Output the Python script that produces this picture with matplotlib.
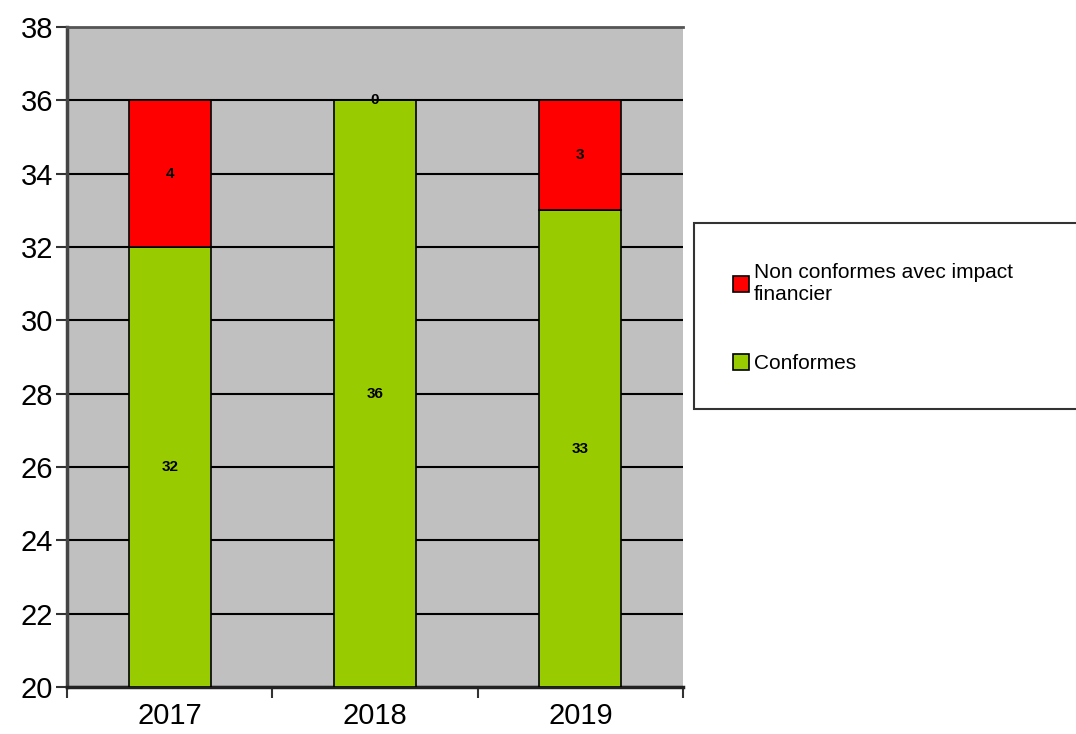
import matplotlib.pyplot as plt
from matplotlib.patches import Rectangle

annees = ['2017', '2018', '2019']
conformes = [32, 36, 33]
non_conformes = [4, 0, 3]

vert = '#99cc00'
rouge = '#ff0000'
fond = '#c0c0c0'

plt.rcParams['font.family'] = ['Liberation Sans', 'DejaVu Sans']

fig = plt.figure(figsize=(10.76, 7.34), dpi=100)
ax = fig.add_axes([0.0623, 0.064, 0.5725, 0.899])
ax.set_facecolor(fond)

x = range(len(annees))
base = 20
h_vert = [c - base for c in conformes]
b1 = ax.bar(x, h_vert, bottom=base, width=0.4, color=vert, edgecolor='black', linewidth=1.2, zorder=3)
b2 = ax.bar(x, non_conformes, bottom=conformes, width=0.4, color=rouge, edgecolor='black', linewidth=1.2, zorder=3)

# etiquettes au milieu de chaque segment visible
for i in x:
    ax.text(i, (base + conformes[i]) / 2, str(conformes[i]), ha='center', va='center',
            fontsize=11, fontweight='bold', zorder=4)
    ax.text(i, conformes[i] + non_conformes[i] / 2, str(non_conformes[i]), ha='center', va='center',
            fontsize=11, fontweight='bold', zorder=4)

ax.set_ylim(20, 38)
ax.set_xlim(-0.5, 2.5)
ax.set_yticks(range(20, 39, 2))
ax.yaxis.grid(True, color='black', linewidth=1.5, zorder=1)
ax.set_axisbelow(True)

ax.set_xticks([-0.5, 0.5, 1.5, 2.5])
ax.set_xticklabels([])
ax.set_xticks(list(x), minor=True)
ax.set_xticklabels(annees, minor=True, fontsize=21)
ax.tick_params(axis='x', which='minor', length=0, pad=11)
ax.tick_params(axis='x', which='major', length=8, width=1.5, color='#333333', direction='out')
ax.tick_params(axis='y', length=8, width=1.5, color='#333333', labelsize=21, pad=2)

ax.spines['right'].set_visible(False)
ax.spines['top'].set_color('#555555')
ax.spines['top'].set_linewidth(2)
ax.spines['left'].set_color('#444444')
ax.spines['left'].set_linewidth(2.5)
ax.spines['bottom'].set_color('#222222')
ax.spines['bottom'].set_linewidth(2.5)

# cadre de la légende
fig.patches.append(Rectangle((0.645, 0.443), 0.4, 0.253, transform=fig.transFigure,
                             facecolor='white', edgecolor='#333333', linewidth=1.5))
leg = fig.legend([b2, b1], ['Non conformes avec impact\nfinancier', 'Conformes'],
                 loc='upper left', bbox_to_anchor=(0.664, 0.667), frameon=False,
                 fontsize=15, handlelength=0.75, handleheight=0.75, handletextpad=0.25,
                 labelspacing=2.4)

plt.savefig('out.png', dpi=100)
